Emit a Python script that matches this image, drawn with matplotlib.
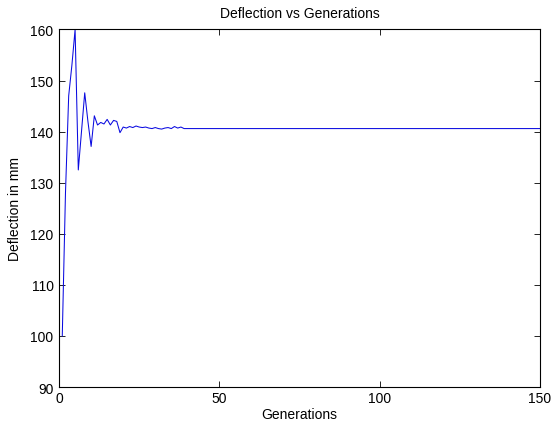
import matplotlib
matplotlib.use("Agg")
import matplotlib.pyplot as plt

# Data (generation index starts at 1)
early_values = [100.0, 128.0, 147.0, 153.0, 160.0, 132.5, 140.0, 147.6, 142.0, 137.1,
                143.1, 141.3, 141.8, 141.5, 142.4, 141.3, 142.2, 142.0, 139.8, 140.9,
                140.7, 141.0, 140.8, 141.1, 140.9, 140.8, 140.9, 140.7, 140.6, 140.8,
                140.6, 140.5, 140.7, 140.8, 140.6, 141.0, 140.7, 140.9]
flat_value = 140.6
deflection = early_values + [flat_value] * (150 - len(early_values))
generations = list(range(1, len(deflection) + 1))

x_ticks = [0, 50, 100, 150]
y_ticks = [90, 100, 110, 120, 130, 140, 150, 160]

plt.rcParams['font.family'] = ['Liberation Sans', 'DejaVu Sans']

fig = plt.figure(figsize=(5.52, 4.27), dpi=100)
fig.patch.set_facecolor('white')
ax = fig.add_axes([0.107, 0.0913, 0.8713, 0.8373])

ax.plot(generations, deflection, color='#0a0ae0', linewidth=0.75)

ax.set_xlim(0, 150)
ax.set_ylim(90, 160)
ax.set_xticks(x_ticks)
ax.set_yticks(y_ticks)
ax.tick_params(direction='in', length=4, width=0.6, labelsize=10,
               top=True, right=True)
ax.tick_params(axis='x', pad=3)
ax.tick_params(axis='y', pad=4)
for s in ax.spines.values():
    s.set_linewidth(0.8)

ax.set_title('Deflection vs Generations', fontsize=10, pad=9)
ax.set_xlabel('Generations', fontsize=10, labelpad=1)
ax.set_ylabel('Deflection in mm', fontsize=10, labelpad=6)

fig.savefig('out.png', dpi=100, facecolor='white')
